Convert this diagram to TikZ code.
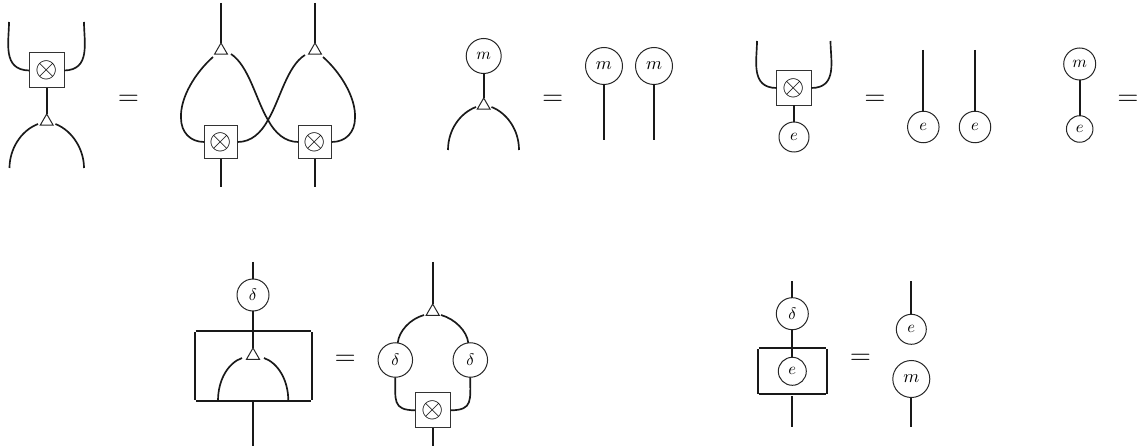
\documentclass[tikz,border=0pt]{standalone}
\usetikzlibrary{shapes.geometric}
\newcommand{\bigtens}{\scalebox{1.72}{$\otimes$}}
\tikzset{
  wire/.style={line width=1pt,black!90},
  rnd/.style={circle,draw=black!85,line width=0.6pt,inner sep=0pt,outer sep=0pt,minimum size=#1*0.6pt},
  bigm/.style={font=\fontsize{10.95}{13}\selectfont},
  tens/.style={rectangle,draw=black!80,line width=0.6pt,inner sep=0pt,outer sep=0pt,minimum size=#1*0.6pt},
  tri/.style={regular polygon,regular polygon sides=3,draw=black!85,line width=0.6pt,inner sep=0pt,outer sep=0pt,minimum size=9pt},
  eq/.style={inner sep=0pt,font=\LARGE},
}
\begin{document}
\begin{tikzpicture}[x=0.6pt,y=-0.6pt]
\useasboundingbox (0,0) rectangle (1139,446);
% --- diagram 1 left
\node[tens=35] (b1) at (46.7,70.5) {\bigtens};
\node[tri] (t1) at (46.7,121.5) {};
\coordinate (a1) at (9,22); \coordinate (a2) at (84,22);
\coordinate (a3) at (38,124); \coordinate (a4) at (55.5,124);
\coordinate (a5) at (9.5,168); \coordinate (a6) at (84,168);
\draw[wire] (a1) .. controls (9,42) and (2,70) .. (b1.west);
\draw[wire] (a2) .. controls (84,42) and (91,70) .. (b1.east);
\draw[wire] (b1.south) -- (t1.corner 1);
\draw[wire] (a3) .. controls (20,131) and (9.5,150) .. (a5);
\draw[wire] (a4) .. controls (73,131) and (84,150) .. (a6);
\node[eq] (e1) at (128.5,100.5) {$=$};
% --- diagram 1 right
\node[tri] (t2) at (221,50.5) {};
\node[tri] (t3) at (315,50.5) {};
\node[tens=33.5] (b2) at (221,142) {\bigtens};
\node[tens=33.5] (b3) at (315,142) {\bigtens};
\coordinate (c1) at (221,3); \coordinate (c2) at (315,3);
\coordinate (c3) at (221,187); \coordinate (c4) at (315,187);
\coordinate (c5) at (213,57); \coordinate (c6) at (231,54);
\coordinate (c7) at (305,55); \coordinate (c8) at (323,57);
\coordinate (x) at (268,120);
\draw[wire] (c5) .. controls (196,72) and (180,97) .. (181,118) .. controls (181,132) and (190,142) .. (b2.west);
\draw[wire] (c6) .. controls (249,66) and (256,100) .. (x) .. controls (275,133) and (285,142) .. (b3.west);
\draw[wire] (c7) .. controls (287,66) and (280,100) .. (x) .. controls (261,133) and (251,142) .. (b2.east);
\draw[wire] (c8) .. controls (340,72) and (356,97) .. (355,118) .. controls (355,132) and (346,142) .. (b3.east);
\draw[wire] (c1) -- (t2.corner 1);
\draw[wire] (c2) -- (t3.corner 1);
\draw[wire] (b2.south) -- (c3);
\draw[wire] (b3.south) -- (c4);
% --- diagram 2
\node[rnd=35] (m1) at (483.7,56) {$m$};
\node[tri] (t4) at (483.7,105.5) {};
\coordinate (d1) at (476,107); \coordinate (d2) at (491.5,107);
\coordinate (d3) at (448,150); \coordinate (d4) at (519,150);
\draw[wire] (m1.south) -- (t4.corner 1);
\draw[wire] (d1) .. controls (460,113) and (448,130) .. (d3);
\draw[wire] (d2) .. controls (507,113) and (519,130) .. (d4);
\node[eq] (e2) at (552.7,100.5) {$=$};
\node[rnd=37,bigm] (m2) at (604,66) {$m$};
\node[rnd=37,bigm] (m3) at (654,66) {$m$};
\coordinate (d5) at (604,140); \coordinate (d6) at (654,140);
\draw[wire] (m2.south) -- (d5);
\draw[wire] (m3.south) -- (d6);
% --- diagram 3
\node[tens=34.5] (b4) at (794,88) {\bigtens};
\node[rnd=30] (e3) at (794,137) {$e$};
\coordinate (f1) at (757,41); \coordinate (f2) at (830.5,41);
\draw[wire] (f1) .. controls (757,60) and (750,88) .. (b4.west);
\draw[wire] (f2) .. controls (830.5,60) and (838,88) .. (b4.east);
\draw[wire] (b4.south) -- (e3.north);
\node[eq] (e4) at (875,100.5) {$=$};
\node[rnd=31.5] (e5) at (923.3,127) {$e$};
\node[rnd=31.5] (e6) at (975,127) {$e$};
\coordinate (f3) at (923.3,50); \coordinate (f4) at (975,50);
\draw[wire] (f3) -- (e5.north);
\draw[wire] (f4) -- (e6.north);
% --- diagram 4
\node[rnd=32] (m4) at (1079.7,64) {$m$};
\node[rnd=26.5] (e7) at (1079.7,129) {$e$};
\draw[wire] (m4.south) -- (e7.north);
\node[eq] (e8) at (1128,100.5) {$=$};
% --- bottom left
\node[rnd=32] (d7) at (253,295) {$\delta$};
\node[tri] (t5) at (253,355.5) {};
\coordinate (g1) at (253,262); \coordinate (g2) at (253,446);
\coordinate (g3) at (242,358); \coordinate (g4) at (264,358);
\coordinate (g5) at (218,400.7); \coordinate (g6) at (288.3,400.7);
\coordinate (r1) at (195.7,330.7); \coordinate (r2) at (310.7,330.7);
\coordinate (r3) at (195.7,400.7); \coordinate (r4) at (310.7,400.7);
\coordinate (r5) at (194.7,332); \coordinate (r6) at (194.7,399.5);
\coordinate (r7) at (312,332); \coordinate (r8) at (312,399.5);
\coordinate (r9) at (253,400.7);
\draw[wire] (g1) -- (d7.north);
\draw[wire] (d7.south) -- (t5.corner 1);
\draw[wire] (r1) -- (r2);
\draw[wire] (r3) -- (r4);
\draw[wire] (r5) -- (r6);
\draw[wire] (r7) -- (r8);
\draw[wire] (r9) -- (g2);
\draw[wire] (g3) .. controls (228,363) and (218,380) .. (g5);
\draw[wire] (g4) .. controls (278,363) and (288.3,380) .. (g6);
\node[eq] (e9) at (345.3,360) {$=$};
% --- bottom middle
\node[tri] (t6) at (432.7,311.5) {};
\node[rnd=34.5] (d8) at (395.3,360) {$\delta$};
\node[rnd=34.5] (d9) at (470.3,360) {$\delta$};
\node[tens=35] (b5) at (432.9,410.3) {\bigtens};
\coordinate (h1) at (432.7,262); \coordinate (h2) at (432.9,446);
\coordinate (h3) at (424,315); \coordinate (h4) at (441,315);
\coordinate (h5) at (397.7,343); \coordinate (h6) at (468.3,343);
\draw[wire] (h1) -- (t6.corner 1);
\draw[wire] (b5.south) -- (h2);
\draw[wire] (h3) .. controls (410,319) and (399,331) .. (h5);
\draw[wire] (h4) .. controls (455,319) and (467,331) .. (h6);
\draw[wire] (d8.south) .. controls (395.5,400) and (392,410.3) .. (b5.west);
\draw[wire] (d9.south) .. controls (470,400) and (473.5,410.3) .. (b5.east);
% --- bottom right
\node[rnd=32] (d10) at (792.3,313.7) {$\delta$};
\node[rnd=28] (e10) at (792.3,371.3) {$e$};
\coordinate (i1) at (792.3,281); \coordinate (i2) at (792.3,427);
\coordinate (i3) at (792.3,396);
\coordinate (s1) at (759,348.3); \coordinate (s2) at (826,348.3);
\coordinate (s3) at (759,394.3); \coordinate (s4) at (826,394.3);
\coordinate (s5) at (757.7,349); \coordinate (s6) at (757.7,393.5);
\coordinate (s7) at (827,349); \coordinate (s8) at (827,393.5);
\draw[wire] (i1) -- (d10.north);
\draw[wire] (d10.south) -- (e10.north);
\draw[wire] (i3) -- (i2);
\draw[wire] (s1) -- (s2);
\draw[wire] (s3) -- (s4);
\draw[wire] (s5) -- (s6);
\draw[wire] (s7) -- (s8);
\node[eq] (e11) at (860.5,359) {$=$};
\node[rnd=30] (e12) at (911.3,329.3) {$e$};
\node[rnd=37,bigm] (m5) at (911.3,379) {$m$};
\coordinate (j1) at (911.3,281); \coordinate (j2) at (911.3,427);
\draw[wire] (j1) -- (e12.north);
\draw[wire] (m5.south) -- (j2);
\end{tikzpicture}
\end{document}
